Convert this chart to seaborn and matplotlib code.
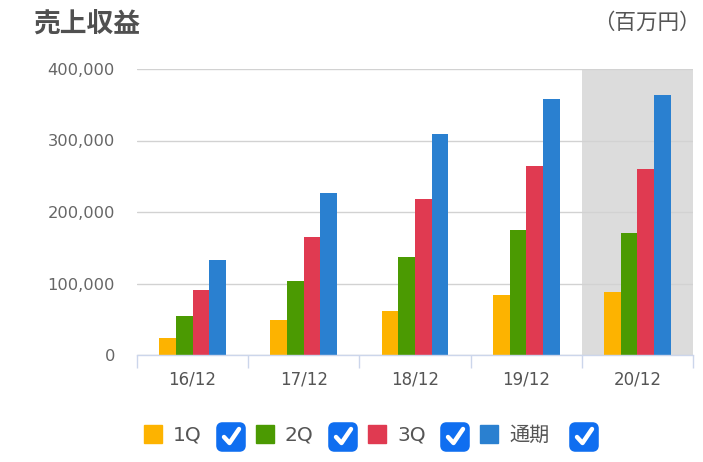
import matplotlib
matplotlib.use("Agg")
import matplotlib.pyplot as plt
from matplotlib.patches import FancyBboxPatch, Rectangle
from matplotlib.lines import Line2D
from matplotlib.ticker import FuncFormatter, FixedLocator
import seaborn as sns
import pandas as pd

# ---- data ----
periods = ["16/12", "17/12", "18/12", "19/12", "20/12"]
series = ["1Q", "2Q", "3Q", "通期"]
q1 = [23500, 49000, 61500, 84000, 88500]
q2 = [54500, 103000, 137000, 174500, 170000]
q3 = [90500, 164500, 218500, 264500, 260000]
fy = [133000, 227000, 309000, 358500, 363500]
colors = ["#FDB300", "#4B9A02", "#E03A51", "#2A80D0"]
title = "売上収益"
unit = "（百万円）"

sns.set_theme(style="white")
plt.rcParams["font.family"] = ["DejaVu Sans", "Noto Sans CJK JP"]

W, H = 703, 462
fig = plt.figure(figsize=(W / 100, H / 100), dpi=100)

def fx(px):
    return px / W

def fy_(py):
    return 1 - py / H

ax = fig.add_axes([fx(137), fy_(355), fx(693 - 137), (355 - 69) / H])

df = pd.DataFrame({
    "period": periods * 4,
    "series": [s for s in series for _ in periods],
    "value": q1 + q2 + q3 + fy,
})

ax.axvspan(3.5, 4.5, color="#DCDCDC", zorder=0, lw=0)
sns.barplot(data=df, x="period", y="value", hue="series", palette=colors,
            width=0.6, linewidth=0, saturation=1, ax=ax, legend=False, zorder=3)

ax.set_xlim(-0.5, 4.5)
ax.set_ylim(0, 400000)
ax.set_yticks([0, 100000, 200000, 300000, 400000])
ax.yaxis.set_major_formatter(FuncFormatter(lambda v, p: f"{int(v):,}"))
ax.grid(axis="y", color="#D2D2D2", lw=1, zorder=1)
ax.set_axisbelow(False)
for gl in ax.get_ygridlines():
    gl.set_zorder(1)
ax.set_xlabel("")
ax.set_ylabel("")
for s in ["top", "right", "left"]:
    ax.spines[s].set_visible(False)
ax.spines["bottom"].set_color("#CCD6EB")
ax.spines["bottom"].set_linewidth(1)
ax.spines["bottom"].set_zorder(4)
ax.tick_params(axis="y", length=0, pad=16, labelsize=11.7, labelcolor="#666666")
ax.tick_params(axis="x", which="major", length=0, pad=11.5, labelsize=12, labelcolor="#555555")
ax.xaxis.set_minor_locator(FixedLocator([-0.5, 0.5, 1.5, 2.5, 3.5, 4.5]))
ax.tick_params(axis="x", which="minor", length=9.4, width=1, color="#CCD6EB", bottom=True)
ax.patch.set_alpha(0)

# title and unit
fig.text(fx(33), fy_(24.5), title, fontsize=19.3, fontweight="bold", color="#505050",
         family=["Noto Sans CJK JP"], va="center", ha="left")
fig.text(fx(647), fy_(23), unit, fontsize=15.5, color="#555555",
         family=["Noto Sans CJK JP"], va="center", ha="center")

# legend with checkboxes
x0 = 144
for i, (name, c) in enumerate(zip(series, colors)):
    bx = x0 + 112 * i
    fig.patches.append(Rectangle((fx(bx), fy_(443)), fx(18), 18 / H, color=c,
                                 transform=fig.transFigure, figure=fig))
    fig.text(fx(bx + 29), fy_(435), name, fontsize=14.5, color="#555555",
             va="center", ha="left", family=["DejaVu Sans", "Noto Sans CJK JP"])
    cx = 216 + 112 * i + (0 if i < 3 else 17)
    fig.patches.append(FancyBboxPatch((fx(cx + 3), fy_(452 - 3)), fx(24), 24 / H,
                                      boxstyle="round,pad=0.0,rounding_size=0.005",
                                      facecolor="#0F6EF0", edgecolor="#0F6EF0", lw=4,
                                      transform=fig.transFigure, figure=fig,
                                      mutation_aspect=W / H))
    fig.lines.append(Line2D([fx(cx + 8), fx(cx + 13.5), fx(cx + 23)],
                            [fy_(437), fy_(443), fy_(429)], color="white", lw=3.2,
                            solid_capstyle="round", solid_joinstyle="round",
                            transform=fig.transFigure, figure=fig))

fig.savefig("out.png", dpi=100)
